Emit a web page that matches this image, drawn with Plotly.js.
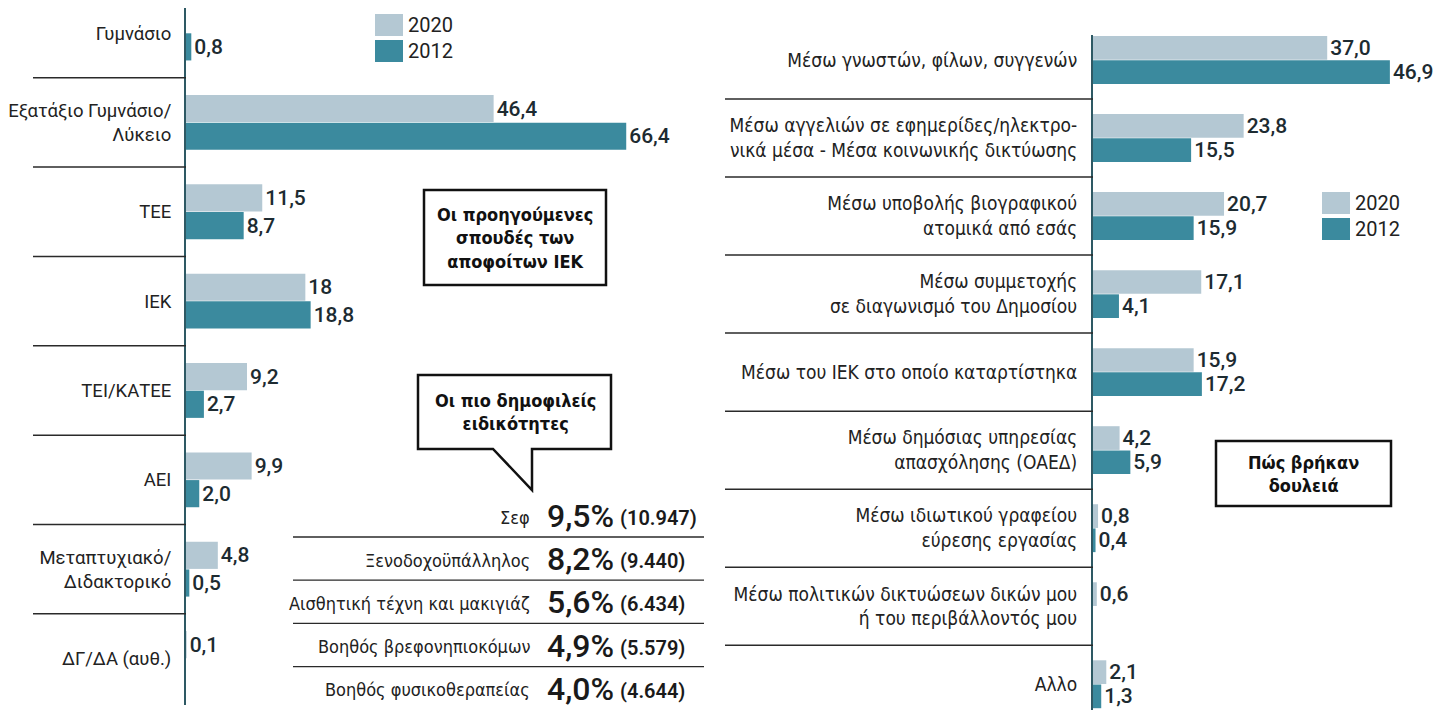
<!DOCTYPE html>
<html>
<head>
<meta charset="utf-8">
<script src="https://cdn.plot.ly/plotly-3.0.1.min.js"></script>
<style>
html,body{margin:0;padding:0;background:#fff;}
#chart{width:1453px;height:710px;}
</style>
</head>
<body>
<div id="chart"></div>
<script>
// ---- Data ----
const leftCategories = ['Γυμνάσιο', 'Εξατάξιο Γυμνάσιο/<br>Λύκειο', 'ΤΕΕ', 'ΙΕΚ', 'ΤΕΙ/ΚΑΤΕΕ', 'ΑΕΙ', 'Μεταπτυχιακό/<br>Διδακτορικό', 'ΔΓ/ΔΑ (αυθ.)'];
const left2020 = [null, 46.4, 11.5, 18, 9.2, 9.9, 4.8, 0.1];
const left2012 = [0.8, 66.4, 8.7, 18.8, 2.7, 2.0, 0.5, null];
const left2020Labels = ['', '46,4', '11,5', '18', '9,2', '9,9', '4,8', '0,1'];
const left2012Labels = ['0,8', '66,4', '8,7', '18,8', '2,7', '2,0', '0,5', ''];

const rightCategories = ['Μέσω γνωστών, φίλων, συγγενών', 'Μέσω αγγελιών σε εφημερίδες/ηλεκτρο-<br>νικά μέσα - Μέσα κοινωνικής δικτύωσης', 'Μέσω υποβολής βιογραφικού<br>ατομικά από εσάς', 'Μέσω συμμετοχής<br>σε διαγωνισμό του Δημοσίου', 'Μέσω του ΙΕΚ στο οποίο καταρτίστηκα', 'Μέσω δημόσιας υπηρεσίας<br>απασχόλησης (ΟΑΕΔ)', 'Μέσω ιδιωτικού γραφείου<br>εύρεσης εργασίας', 'Μέσω πολιτικών δικτυώσεων δικών μου<br>ή του περιβάλλοντός μου', 'Αλλο'];
const right2020 = [37.0, 23.8, 20.7, 17.1, 15.9, 4.2, 0.8, 0.6, 2.1];
const right2012 = [46.9, 15.5, 15.9, 4.1, 17.2, 5.9, 0.4, null, 1.3];
const right2020Labels = ['37,0', '23,8', '20,7', '17,1', '15,9', '4,2', '0,8', '0,6', '2,1'];
const right2012Labels = ['46,9', '15,5', '15,9', '4,1', '17,2', '5,9', '0,4', '', '1,3'];

const seriesNames = ['2020', '2012'];

const specialties = ['Σεφ', 'Ξενοδοχοϋπάλληλος', 'Αισθητική τέχνη και μακιγιάζ', 'Βοηθός βρεφονηπιοκόμων', 'Βοηθός φυσικοθεραπείας'];
const specialtyShares = ['9,5%', '8,2%', '5,6%', '4,9%', '4,0%'];
const specialtyCounts = ['(10.947)', '(9.440)', '(6.434)', '(5.579)', '(4.644)'];

// ---- Styles ----
const W = 1453, H = 710;
const C2020 = '#b4c8d3', C2012 = '#3b8a9e';
const TXT = '#1d2b31';
const px = x => x / W;
const py = y => 1 - y / H;
const condensed = '"Liberation Sans Narrow", "DejaVu Sans Condensed", Roboto, sans-serif';

const valueFont = {family: 'Roboto, sans-serif', size: 21, color: TXT, weight: 500};

function barTrace(cats, vals, labels, name, color, xa, ya) {
  return {
    type: 'bar', orientation: 'h', y: cats, x: vals, name: name,
    xaxis: xa, yaxis: ya,
    marker: {color: color, line: {width: 0}},
    text: labels, textposition: 'outside', textfont: valueFont,
    constraintext: 'none', cliponaxis: false, showlegend: false,
    hoverinfo: 'x+y'
  };
}

const data = [
  barTrace(leftCategories, left2020, left2020Labels, seriesNames[0], C2020, 'x', 'y'),
  barTrace(leftCategories, left2012, left2012Labels, seriesNames[1], C2012, 'x', 'y'),
  barTrace(rightCategories, right2020, right2020Labels, seriesNames[0], C2020, 'x2', 'y2'),
  barTrace(rightCategories, right2012, right2012Labels, seriesNames[1], C2012, 'x2', 'y2')
];

const shapes = [];
const annotations = [];

// category separators
for (let i = 0; i < leftCategories.length - 1; i++) {
  shapes.push({type: 'line', xref: 'paper', yref: 'y', x0: px(33), x1: px(186), y0: i + 0.5, y1: i + 0.5, line: {color: '#2a2a2a', width: 1.5}});
}
for (let i = 0; i < rightCategories.length - 1; i++) {
  shapes.push({type: 'line', xref: 'paper', yref: 'y2', x0: px(725), x1: px(1093), y0: i + 0.5, y1: i + 0.5, line: {color: '#2a2a2a', width: 1.5}});
}

// custom legends
function legend(xl, yt) {
  [C2020, C2012].forEach((c, k) => {
    shapes.push({type: 'rect', xref: 'paper', yref: 'paper', x0: px(xl), x1: px(xl + 28), y0: py(yt + k * 26), y1: py(yt + k * 26 + 22), fillcolor: c, line: {width: 0}});
    annotations.push({xref: 'paper', yref: 'paper', x: px(xl + 31), y: py(yt + k * 26 + 11), xanchor: 'left', yanchor: 'middle', text: seriesNames[k], showarrow: false, font: {family: 'Roboto, sans-serif', size: 20, color: '#222'}});
  });
}
legend(375, 14);
legend(1322, 192);

// boxes
const boxLine = {color: '#111', width: 2.5};
shapes.push({type: 'rect', xref: 'paper', yref: 'paper', x0: px(424), x1: px(606), y0: py(190), y1: py(285), line: boxLine, fillcolor: '#fff'});
annotations.push({xref: 'paper', yref: 'paper', x: px(515), y: py(238), xanchor: 'center', yanchor: 'middle', showarrow: false, align: 'center',
  text: 'Οι προηγούμενες<br>σπουδές των<br>αποφοίτων ΙΕΚ', font: {family: condensed, size: 18, color: '#111', weight: 700}});

const bubble = [[418, 375], [611, 375], [611, 449], [532, 449], [532, 490], [493, 449], [418, 449]];
shapes.push({type: 'path', xref: 'paper', yref: 'paper', path: 'M' + bubble.map(p => px(p[0]) + ',' + py(p[1])).join(' L') + ' Z', line: boxLine, fillcolor: '#fff'});
annotations.push({xref: 'paper', yref: 'paper', x: px(515), y: py(412), xanchor: 'center', yanchor: 'middle', showarrow: false, align: 'center',
  text: 'Οι πιο δημοφιλείς<br>ειδικότητες', font: {family: condensed, size: 18, color: '#111', weight: 700}});

shapes.push({type: 'rect', xref: 'paper', yref: 'paper', x0: px(1216), x1: px(1391), y0: py(441), y1: py(506), line: boxLine, fillcolor: '#fff'});
annotations.push({xref: 'paper', yref: 'paper', x: px(1303), y: py(474), xanchor: 'center', yanchor: 'middle', showarrow: false, align: 'center',
  text: 'Πώς βρήκαν<br>δουλειά', font: {family: condensed, size: 18, color: '#111', weight: 700}});

// specialties table
const rowY0 = 517, rowStep = 43.2;
specialties.forEach((s, i) => {
  const y = rowY0 + i * rowStep;
  annotations.push({xref: 'paper', yref: 'paper', x: px(532), y: py(y), xanchor: 'right', yanchor: 'middle', showarrow: false, text: s, font: {family: condensed, size: 18, color: '#222'}});
  annotations.push({xref: 'paper', yref: 'paper', x: px(545), y: py(y - 1), xanchor: 'left', yanchor: 'middle', showarrow: false, text: specialtyShares[i], font: {family: 'Roboto, sans-serif', size: 32, color: '#1a1a1a', weight: 500}});
  annotations.push({xref: 'paper', yref: 'paper', x: px(618), y: py(y + 1), xanchor: 'left', yanchor: 'middle', showarrow: false, text: specialtyCounts[i], font: {family: 'Roboto, sans-serif', size: 20, color: '#1a1a1a', weight: 600}});
  if (i < specialties.length - 1) {
    shapes.push({type: 'line', xref: 'paper', yref: 'paper', x0: px(293), x1: px(704), y0: py(y + 20), y1: py(y + 20), line: {color: '#2a2a2a', width: 1.3}});
  }
});

const axisLine = '#2e5964';
const layout = {
  width: W, height: H,
  margin: {l: 0, r: 0, t: 0, b: 0},
  paper_bgcolor: '#fff', plot_bgcolor: 'rgba(0,0,0,0)',
  barmode: 'group', bargap: 0.38, bargroupgap: 0.02,
  showlegend: false,
  xaxis: {domain: [px(186), px(720)], range: [0, (720 - 186) / 6.63], visible: false, fixedrange: true},
  yaxis: {domain: [py(705), py(8)], range: [7.52, -0.28], anchor: 'x', type: 'category',
    showline: true, linecolor: axisLine, linewidth: 2, showgrid: false, zeroline: false, ticks: '',
    ticklabelstandoff: 9,
    tickfont: {family: 'Roboto, sans-serif', size: 18.5, color: '#222'}},
  xaxis2: {domain: [px(1093), 1], range: [0, (W - 1093) / 6.33], visible: false, fixedrange: true, anchor: 'y2'},
  yaxis2: {domain: [0, py(35)], range: [8.33, -0.32], anchor: 'x2', type: 'category',
    showline: true, linecolor: axisLine, linewidth: 2, showgrid: false, zeroline: false, ticks: '',
    ticklabelstandoff: 10,
    tickfont: {family: condensed, size: 19, color: '#222'}},
  shapes: shapes,
  annotations: annotations
};

Plotly.newPlot('chart', data, layout, {displayModeBar: false, staticPlot: true});
</script>
</body>
</html>
